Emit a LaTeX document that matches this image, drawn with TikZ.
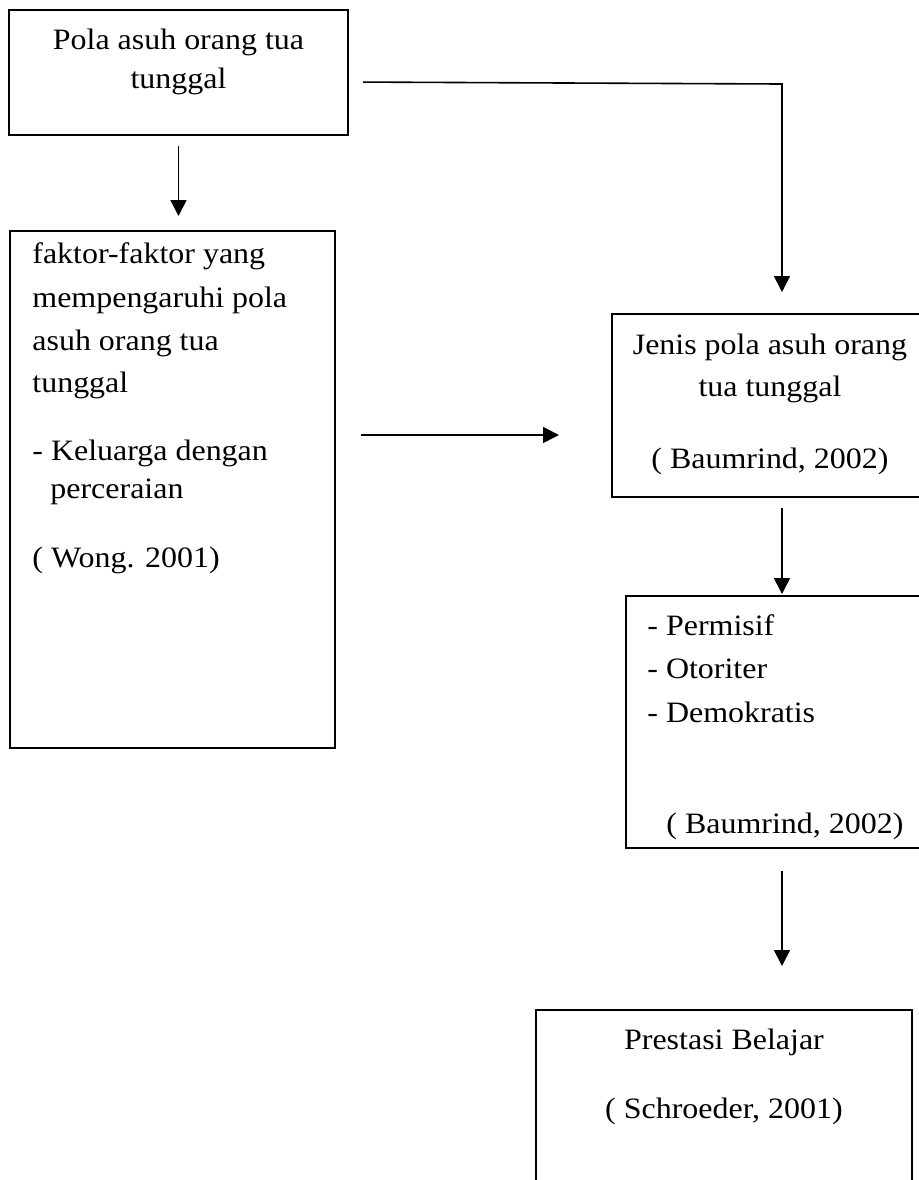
\documentclass[tikz,border=0pt]{standalone}
\usepackage{fontspec}
\setmainfont{Liberation Serif}[FakeStretch=1.08]
\usetikzlibrary{arrows.meta}

\begin{document}
\begin{tikzpicture}[x=0.5pt, y=-0.5pt,
box/.style={rectangle, draw=black, line width=1pt, inner sep=0pt},
txt/.style={inner sep=0pt, font=\fontsize{14.8}{18}\selectfont},
arr/.style={-{Triangle[width=8pt,length=8pt]}, line width=0.8pt},
]
\useasboundingbox (0,0) rectangle (919,1180);
\clip (0,0) rectangle (919,1180);

% boxes
\node[box, minimum width=169.5pt, minimum height=62.5pt] (pola) at (178.5,72.5) {};
\node[box, minimum width=162.5pt, minimum height=258.5pt] (faktor) at (172.5,489.5) {};
\node[box, minimum width=158pt, minimum height=91.5pt] (jenis) at (770,405.5) {};
\node[box, minimum width=154.5pt, minimum height=126pt] (tipe) at (780.5,722) {};
\node[box, minimum width=188pt, minimum height=110pt] (prestasi) at (724,1120) {};

% texts
\node[txt, anchor=base] (pola1) at (178.5,49) {Pola asuh orang tua};
\node[txt, anchor=base] (pola2) at (178.5,88) {tunggal};

\node[txt, anchor=base west] (faktor1) at (32,263) {faktor-faktor yang};
\node[txt, anchor=base west] (faktor2) at (32,307) {mempengaruhi pola};
\node[txt, anchor=base west] (faktor3) at (32,350) {asuh orang tua};
\node[txt, anchor=base west] (faktor4) at (32,392) {tunggal};
\node[txt, anchor=base west] (faktor5) at (32,460) {- Keluarga dengan};
\node[txt, anchor=base west] (faktor6) at (50,498) {perceraian};
\node[txt, anchor=base west] (faktor7) at (32,567) {( Wong. 2001)};

\node[txt, anchor=base] (jenis1) at (770,354) {Jenis pola asuh orang};
\node[txt, anchor=base] (jenis2) at (770,396) {tua tunggal};
\node[txt, anchor=base] (jenis3) at (770,468) {( Baumrind, 2002)};

\node[txt, anchor=base west] (tipe1) at (647,635) {- Permisif};
\node[txt, anchor=base west] (tipe2) at (647,678) {- Otoriter};
\node[txt, anchor=base west] (tipe3) at (647,722) {- Demokratis};
\node[txt, anchor=base west] (tipe4) at (666,833) {( Baumrind, 2002)};

\node[txt, anchor=base] (prestasi1) at (724,1049) {Prestasi Belajar};
\node[txt, anchor=base] (prestasi2) at (724,1118) {( Schroeder, 2001)};

% arrows
\coordinate (kanan) at (782,84);
\draw[arr, shorten <=5pt, shorten >=7pt] (pola.south) -- (pola.south |- faktor.north);
\draw[arr, shorten <=7pt, shorten >=10.5pt] (pola.east |- 0,82) -- (kanan) -- (kanan |- jenis.north);
\draw[arr, shorten <=12.5pt, shorten >=26pt] (faktor.east |- 0,435) -- (jenis.west |- 0,435);
\draw[arr, shorten <=5pt, shorten >=0.5pt] (kanan |- jenis.south) -- (kanan |- tipe.north);
\draw[arr, shorten <=11pt, shorten >=21.5pt] (kanan |- tipe.south) -- (kanan |- prestasi.north);
\end{tikzpicture}
\end{document}
